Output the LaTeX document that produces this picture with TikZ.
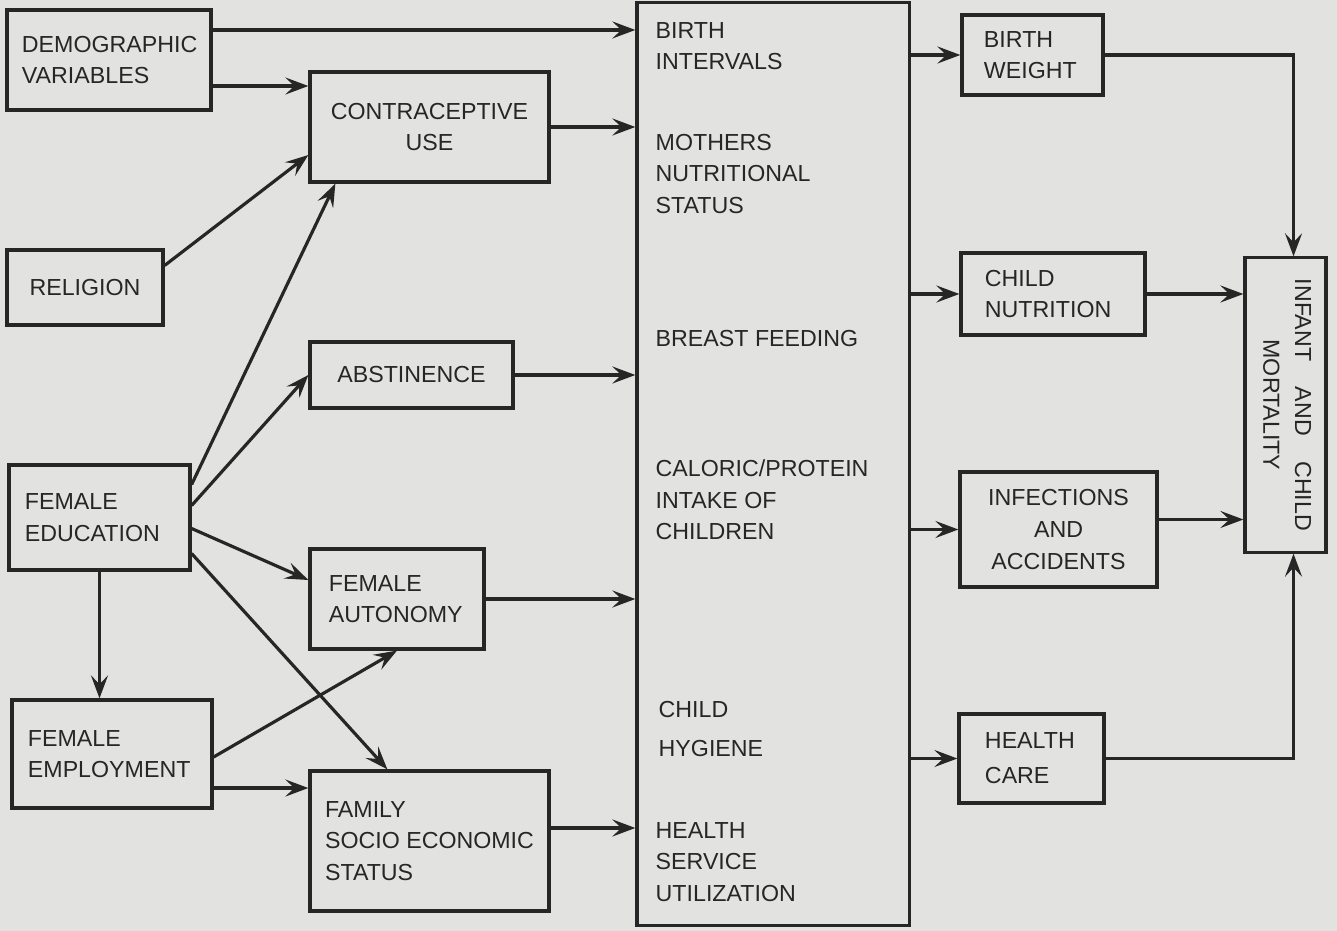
\documentclass[tikz,border=0pt]{standalone}
\usepackage{fontspec}
\setmainfont{Liberation Sans}
\usetikzlibrary{arrows.meta}
\definecolor{paper}{RGB}{226,226,224}
\definecolor{ink}{RGB}{38,38,38}
\tikzset{
  blk/.style={draw=ink, line width=0.9pt, inner sep=0pt, text=ink},
  lft/.style={align=left},
  ctr/.style={align=center},
  arr/.style={draw=ink, line width=0.9pt, -{Stealth[length=2.3mm,width=1.7mm,inset=0.9mm]}},
  lbl/.style={text=ink, align=left, anchor=west, inner sep=0pt}
}
\begin{document}
\begin{tikzpicture}[x=0.01cm, y=-0.01cm, font=\fontsize{6.6}{9}\selectfont]
\fill[paper] (0,0) rectangle (1337,931);
\useasboundingbox (0,0) rectangle (1337,931);
\node[blk, lft, minimum width=2.04cm, minimum height=1.00cm, text width=1.74cm] (demog) at (109,60) {DEMOGRAPHIC\\VARIABLES};
\node[blk, ctr, minimum width=2.39cm, minimum height=1.10cm] (contra) at (429.5,127) {CONTRACEPTIVE\\USE};
\node[blk, ctr, minimum width=1.56cm, minimum height=0.75cm] (relig) at (85,287.5) {RELIGION};
\node[blk, ctr, minimum width=2.03cm, minimum height=0.66cm] (abst) at (411.5,375) {ABSTINENCE};
\node[blk, lft, minimum width=1.81cm, minimum height=1.05cm, text width=1.49cm] (fedu) at (99.5,517.5) {FEMALE\\EDUCATION};
\node[blk, lft, minimum width=1.74cm, minimum height=1.00cm, text width=1.36cm] (fauto) at (397,599) {FEMALE\\AUTONOMY};
\node[blk, lft, minimum width=2.00cm, minimum height=1.08cm, text width=1.68cm] (femp) at (112,754) {FEMALE\\EMPLOYMENT};
\node[blk, lft, minimum width=2.39cm, minimum height=1.40cm] (fses) at (429.5,841) {FAMILY\\SOCIO ECONOMIC\\STATUS};
\node[blk, minimum width=2.72cm, minimum height=9.22cm] (big) at (773,464) {};
\node[blk, lft, minimum width=1.41cm, minimum height=0.80cm, text width=0.97cm] (bw) at (1032.5,55) {BIRTH\\WEIGHT};
\node[blk, lft, minimum width=1.84cm, minimum height=0.82cm, text width=1.36cm] (cn) at (1053,294) {CHILD\\NUTRITION};
\node[blk, ctr, minimum width=1.97cm, minimum height=1.15cm] (inf) at (1058.5,529.5) {INFECTIONS\\AND\\ACCIDENTS};
\node[blk, lft, minimum width=1.45cm, minimum height=0.89cm, text width=0.93cm] (hc) at (1031.5,758.5) {HEALTH\\[1pt]CARE};
\node[blk, minimum width=0.81cm, minimum height=2.94cm] (mort) at (1285.5,405) {\rotatebox{-90}{\begin{tabular}{@{}c@{}}INFANT\hspace{1.1em}AND\hspace{1.1em}CHILD\\MORTALITY\end{tabular}}};
\node[lbl] (bint) at (655,46) {BIRTH\\INTERVALS};
\node[lbl] (mns) at (655,174) {MOTHERS\\NUTRITIONAL\\STATUS};
\node[lbl] (bf) at (655,339) {BREAST FEEDING};
\node[lbl] (cpi) at (655,500) {CALORIC/PROTEIN\\INTAKE OF\\CHILDREN};
\node[lbl] (chy) at (658,729) {CHILD\\[2pt]HYGIENE};
\node[lbl] (hsu) at (655,862) {HEALTH\\SERVICE\\UTILIZATION};
\draw[arr] ([yshift=3mm]demog.east) -- ([yshift=3mm]demog.east -| big.west);
\draw[arr] ([yshift=-2.6mm]demog.east) -- ([yshift=-2.6mm]demog.east -| contra.west);
\draw[arr] ([yshift=2.2mm]relig.east) -- ([yshift=-2.8mm]contra.west);
\draw[arr] ([yshift=3.3mm]fedu.east) -- ([xshift=2.7mm]contra.south west);
\draw[arr] ([yshift=1.2mm]fedu.east) -- (abst.west);
\draw[arr] ([yshift=-1.1mm]fedu.east) -- ([yshift=1.9mm]fauto.west);
\draw[arr] ([yshift=-3.6mm]fedu.east) -- ([xshift=7.9mm]fses.north west);
\draw[arr] (fedu.south) -- (fedu.south |- femp.north);
\draw[arr] ([yshift=-0.3mm]femp.east) -- (fauto.south);
\draw[arr] ([yshift=-3.4mm]femp.east) -- ([yshift=-3.4mm]femp.east -| fses.west);
\draw[arr] (contra.east) -- (contra.east -| big.west);
\draw[arr] (abst.east) -- (abst.east -| big.west);
\draw[arr] (fauto.east) -- (fauto.east -| big.west);
\draw[arr] ([yshift=1.3mm]fses.east) -- ([yshift=1.3mm]fses.east -| big.west);
\draw[arr] (bw.west -| big.east) -- (bw.west);
\draw[arr] (cn.west -| big.east) -- (cn.west);
\draw[arr] (inf.west -| big.east) -- (inf.west);
\draw[arr] (hc.west -| big.east) -- (hc.west);
\draw[arr] (bw.east) -| ([xshift=0.8mm]mort.north);
\draw[arr] (cn.east) -- (cn.east -| mort.west);
\draw[arr] ([yshift=1mm]inf.east) -- ([yshift=1mm]inf.east -| mort.west);
\draw[arr] (hc.east) -| ([xshift=0.8mm]mort.south);
\end{tikzpicture}
\end{document}
